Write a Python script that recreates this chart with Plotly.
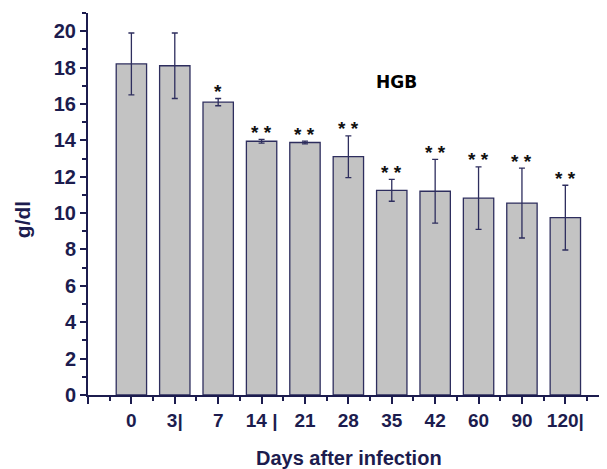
import plotly.graph_objects as go

days = ["0", "3|", "7", "14 |", "21", "28", "35", "42", "60", "90", "120|"]
hgb_mean = [18.2, 18.1, 16.1, 13.95, 13.88, 13.1, 11.25, 11.2, 10.82, 10.55, 9.75]
hgb_err = [1.7, 1.8, 0.2, 0.1, 0.08, 1.15, 0.6, 1.75, 1.72, 1.92, 1.78]
signif = ["", "", "*", "* *", "* *", "* *", "* *", "* *", "* *", "* *", "* *"]
y_ticks = [0, 2, 4, 6, 8, 10, 12, 14, 16, 18, 20]

navy = "#1c1c4e"
xpos = list(range(len(days)))

fig = go.Figure()
fig.add_trace(go.Bar(
    x=xpos, y=hgb_mean, width=0.7,
    marker=dict(color="#c3c3c3", line=dict(color="#2e2e5e", width=1.3)),
    error_y=dict(type="data", array=hgb_err, visible=True, color="#2e2e5e",
                 thickness=1.3, width=3),
    showlegend=False,
))

for i, s in enumerate(signif):
    if s:
        fig.add_annotation(x=xpos[i], y=hgb_mean[i] + hgb_err[i], text="<b>" + s + "</b>",
                           showarrow=False, yanchor="middle", yshift=7,
                           font=dict(family="Liberation Sans", size=19, color="#111111"))

fig.add_annotation(x=6.12, y=17.2, text="<b>HGB</b>", showarrow=False,
                   font=dict(family="DejaVu Sans", size=17, color="#000000"))

fig.add_annotation(xref="paper", yref="paper", x=0.503, y=-0.165,
                   text="<b>Days after infection</b>", showarrow=False,
                   xanchor="center", yanchor="middle",
                   font=dict(family="Liberation Sans", size=20, color=navy))
fig.add_annotation(xref="paper", yref="paper", x=-0.127, y=0.458,
                   text="<b>g/dl</b>", showarrow=False, textangle=-90,
                   xanchor="center", yanchor="middle",
                   font=dict(family="Liberation Sans", size=21, color=navy))

# page body has an 8px default margin, so the figure is sized to fit the window
fig.update_layout(
    width=599, height=461,
    margin=dict(l=80, r=0, t=5, b=74),
    plot_bgcolor="white", paper_bgcolor="white",
    bargap=0.3,
)
fig.update_xaxes(
    range=[-1, 10.96], automargin=False,
    tickmode="array", tickvals=[-1] + xpos, ticktext=[""] + ["<b>" + d + "</b>" for d in days],
    ticks="outside", ticklen=7, tickwidth=1.5, tickcolor=navy,
    minor=dict(dtick=1, tick0=-0.5, ticks="outside", ticklen=4, tickwidth=1.5, tickcolor=navy),
    showline=True, linecolor=navy, linewidth=2, showgrid=False, zeroline=False,
    tickfont=dict(family="Liberation Sans", size=19, color=navy),
)
fig.update_yaxes(
    range=[0, 21], automargin=False,
    tickmode="array", tickvals=y_ticks, ticktext=["<b>%d</b>" % v for v in y_ticks],
    ticks="outside", ticklen=6, tickwidth=1.5, tickcolor=navy,
    minor=dict(dtick=2, tick0=1, ticks="outside", ticklen=4, tickwidth=1.5, tickcolor=navy),
    showline=True, linecolor=navy, linewidth=2, showgrid=False, zeroline=False,
    tickfont=dict(family="Liberation Sans", size=20, color=navy),
)

fig.write_html("out.html")
